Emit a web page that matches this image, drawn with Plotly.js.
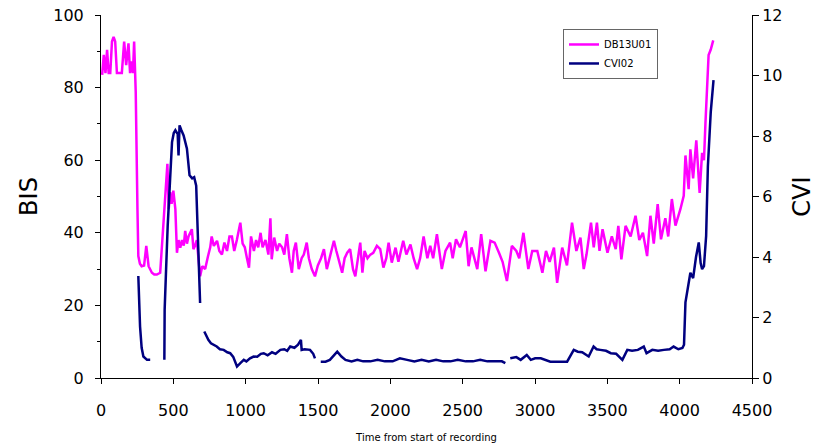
<!DOCTYPE html>
<html>
<head>
<meta charset="utf-8">
<script src="https://cdn.plot.ly/plotly-3.0.1.min.js"></script>
<style>html,body{margin:0;padding:0;background:#fff;}#chart{width:834px;height:447px;}</style>
</head>
<body>
<div id="chart"></div>
<script>
// ---- Data ----
const bisName = "DB13U01";
const cviName = "CVI02";

const bisTime = [
  8, 19, 31, 42, 53, 64, 76, 87, 98, 110,
  121, 132, 144, 160, 174, 190, 201, 213, 221, 229,
  240, 252, 258, 269, 281, 298, 313, 329, 352, 368,
  386, 409, 420, 432, 450, 459, 468, 478, 488, 500,
  514, 525, 536, 548, 560, 572, 582, 594, 605, 616,
  628, 639, 650, 662, 673, 685, 700, 720, 740, 755,
  765, 780, 802, 818, 836, 853, 871, 888, 905, 921,
  939, 963, 979, 994, 1009, 1023, 1037, 1057, 1072, 1087,
  1103, 1117, 1137, 1157, 1171, 1180, 1197, 1217, 1232, 1252,
  1267, 1285, 1302, 1320, 1332, 1347, 1367, 1387, 1402, 1422,
  1437, 1457, 1479, 1499, 1521, 1541, 1561, 1586, 1610, 1627,
  1647, 1667, 1684, 1702, 1722, 1742, 1758, 1772, 1792, 1807,
  1822, 1842, 1862, 1882, 1907, 1930, 1952, 1972, 1988, 2010,
  2036, 2056, 2089, 2111, 2139, 2161, 2185, 2206, 2230, 2256,
  2276, 2296, 2322, 2356, 2381, 2413, 2431, 2454, 2481, 2521,
  2541, 2561, 2601, 2628, 2658, 2692, 2721, 2751, 2776, 2806,
  2840, 2871, 2891, 2920, 2954, 2981, 3016, 3051, 3076, 3101,
  3131, 3153, 3188, 3221, 3256, 3286, 3314, 3337, 3356, 3387,
  3406, 3428, 3446, 3467, 3501, 3531, 3558, 3576, 3597, 3626,
  3661, 3695, 3721, 3746, 3775, 3798, 3821, 3848, 3871, 3901,
  3921, 3946, 3971, 4005, 4028, 4040, 4062, 4074, 4093, 4115,
  4138, 4155, 4168, 4178, 4190, 4200, 4215, 4225, 4232
];
const bisValue = [
  83.5, 89, 84, 90.4, 84, 84, 92.7, 94, 92.7, 84,
  84, 84, 84, 92.7, 86.2, 92.2, 84, 87.2, 84, 92.7,
  78.9, 46.5, 33.6, 31.5, 30.8, 31, 36.4, 30.8, 29, 28.5,
  28.5, 29, 35, 43.8, 53, 59, 46.5, 51.2, 48, 51.6,
  46.5, 34.5, 38, 35.9, 38, 36.5, 40.5, 37, 39, 40,
  41, 35.5, 36.4, 38, 33, 28, 30.8, 30, 33.6, 36,
  39, 36.4, 37.8, 35, 34, 37.3, 35, 39, 39, 35,
  38, 42.8, 37, 36, 33, 30.4, 39, 35, 38, 36,
  40, 36, 38, 34, 44, 32.7, 38.7, 35, 37, 36,
  34, 39.6, 33, 29, 35, 37.3, 30, 33, 34, 37.3,
  33, 30, 28, 31, 33, 35.5, 30, 34, 37.8, 35,
  32, 29, 33, 34.5, 35.5, 30, 28, 32, 37.3, 29,
  35, 33, 34, 34.5, 36.4, 35.5, 30.4, 33, 37.3, 31.8,
  35.9, 32, 37.8, 34, 36.8, 33, 30, 33, 39, 33,
  36.4, 33, 39.6, 30, 35, 37.3, 33, 38.2, 36, 40.5,
  30.8, 36, 30, 39.6, 29.4, 37.8, 37.3, 34.5, 32, 26.7,
  36.4, 35, 33, 40, 30, 35, 35, 29, 35, 32,
  35.9, 26.2, 35.9, 31, 42.8, 35, 38.7, 30, 34, 42.8,
  36, 42.8, 35, 41, 34.5, 39, 35.5, 41.9, 32.7, 41.9,
  39, 44.7, 38, 40, 33.6, 44.7, 37, 47.9, 38.2, 44,
  39, 49.3, 42, 46.5, 50.2, 61.3, 52, 63, 55, 65.5,
  51, 62, 60, 70, 82, 89, 90.5, 92, 93
];

const cviTime = [
  258, 264, 270, 281, 293, 318, 340, 390, 438, 440,
  450, 461, 479, 491, 503, 514, 525, 530, 536, 543,
  555, 571, 594, 612, 630, 644, 658, 673, 685, 700,
  714, 728, 742, 760, 780, 800, 822, 848, 873, 893,
  914, 940, 965, 987, 1005, 1030, 1055, 1080, 1105, 1125,
  1152, 1182, 1207, 1240, 1267, 1287, 1308, 1337, 1362, 1382,
  1387, 1407, 1445, 1467, 1479, 1495, 1519, 1552, 1582, 1610,
  1633, 1662, 1690, 1732, 1772, 1812, 1862, 1912, 1962, 2016,
  2066, 2116, 2166, 2216, 2266, 2316, 2366, 2416, 2466, 2521,
  2571, 2621, 2671, 2721, 2771, 2795, 2810, 2829, 2871, 2901,
  2943, 2971, 3001, 3040, 3076, 3106, 3146, 3186, 3222, 3268,
  3296, 3326, 3359, 3371, 3405, 3426, 3451, 3491, 3524, 3561,
  3604, 3638, 3671, 3711, 3752, 3771, 3811, 3851, 3891, 3931,
  3958, 3991, 4019, 4030, 4040, 4058, 4074, 4093, 4113, 4132,
  4145, 4155, 4168, 4183, 4195, 4215, 4234
];
const cviValue = [
  3.37, 2.5, 1.7, 1.0, 0.71, 0.6, 0.6, null, 0.6, 2.26,
  3.6, 5.03, 6.7, 7.8, 8.1, 8.19, 8.1, 8.08, 7.36, 8.35,
  8.2, 8.02, 7.58, 6.7, 6.6, 6.64, 6.36, 3.92, 2.48, null,
  1.54, 1.4, 1.26, 1.15, 1.1, 1.04, 0.95, 0.93, 0.85, 0.82,
  0.7, 0.38, 0.5, 0.6, 0.55, 0.65, 0.71, 0.7, 0.8, 0.82,
  0.75, 0.85, 0.8, 0.93, 0.95, 0.9, 1.04, 1.0, 1.1, 1.26,
  0.93, 0.95, 0.93, 0.8, 0.65, null, 0.54, 0.54, 0.6, 0.76,
  0.87, 0.71, 0.6, 0.55, 0.6, 0.55, 0.55, 0.6, 0.55, 0.55,
  0.65, 0.6, 0.55, 0.6, 0.55, 0.6, 0.55, 0.55, 0.6, 0.55,
  0.55, 0.6, 0.55, 0.55, 0.55, 0.49, null, 0.65, 0.69, 0.6,
  0.76, 0.6, 0.65, 0.65, 0.6, 0.54, 0.54, 0.55, 0.54, 0.93,
  0.87, 0.85, 0.76, 0.71, 1.04, 0.95, 0.93, 0.9, 0.82, 0.8,
  0.6, 0.93, 0.9, 0.93, 1.04, 0.82, 0.93, 0.9, 0.93, 0.95,
  1.04, 0.95, 0.99, 1.1, 2.5, 3.0, 3.48, 3.3, 4.0, 4.48,
  3.8, 3.6, 3.7, 4.7, 7.0, 8.8, 9.85
];

const xTicks = [0, 500, 1000, 1500, 2000, 2500, 3000, 3500, 4000, 4500];
const bisTicks = [0, 20, 40, 60, 80, 100];
const cviTicks = [0, 2, 4, 6, 8, 10, 12];

const xTitle = "Time from start of recording";
const bisTitle = "BIS";
const cviTitle = "CVI";

// ---- Chart ----
const FONT = "'DejaVu Sans', Verdana, sans-serif";

const traces = [
  {
    x: bisTime, y: bisValue, name: bisName, type: "scatter", mode: "lines",
    line: {color: "#FF00FF", width: 2.5}, connectgaps: false, yaxis: "y"
  },
  {
    x: cviTime, y: cviValue, name: cviName, type: "scatter", mode: "lines",
    line: {color: "#000080", width: 2.5}, connectgaps: false, yaxis: "y2"
  }
];

const layout = {
  width: 834, height: 447,
  margin: {l: 101, r: 82, t: 15, b: 69, pad: 0},
  paper_bgcolor: "#ffffff", plot_bgcolor: "#ffffff",
  font: {family: FONT, color: "#000000", size: 16},
  showlegend: true,
  legend: {
    x: 0.7097, y: 0.9615, xanchor: "left", yanchor: "top",
    bgcolor: "#ffffff", bordercolor: "#666666", borderwidth: 1,
    font: {family: FONT, size: 10, color: "#000000"}
  },
  xaxis: {
    range: [0, 4500], tickvals: xTicks, ticktext: xTicks.map(String),
    ticks: "outside", ticklen: 5, tickwidth: 1, tickcolor: "#000",
    showline: true, linecolor: "#000", linewidth: 1, mirror: false,
    showgrid: false, zeroline: false,
    tickfont: {family: FONT, size: 16, color: "#000"},
    ticklabelstandoff: 13,
    title: {text: xTitle, font: {family: FONT, size: 10, color: "#000"}, standoff: 14}
  },
  yaxis: {
    range: [0, 100], tickvals: bisTicks, ticktext: bisTicks.map(String),
    ticks: "outside", ticklen: 5, tickwidth: 1, tickcolor: "#000",
    minor: {dtick: 10, ticks: "outside", ticklen: 3, tickcolor: "#000", showgrid: false},
    showline: true, linecolor: "#000", linewidth: 1,
    showgrid: false, zeroline: false,
    tickfont: {family: FONT, size: 16, color: "#000"},
    ticklabelstandoff: 8,
    title: {text: bisTitle, font: {family: FONT, size: 24, color: "#000"}, standoff: 8}
  },
  yaxis2: {
    range: [0, 12], tickvals: cviTicks, ticktext: cviTicks.map(String),
    overlaying: "y", side: "right", anchor: "x",
    ticks: "outside", ticklen: 6, tickwidth: 1, tickcolor: "#000",
    showline: true, linecolor: "#000", linewidth: 1,
    showgrid: false, zeroline: false,
    tickfont: {family: FONT, size: 16, color: "#000"},
    ticklabelstandoff: 0,
    title: {text: cviTitle, font: {family: FONT, size: 24, color: "#000"}, standoff: 11}
  }
};

Plotly.newPlot("chart", traces, layout, {staticPlot: true, displayModeBar: false});
</script>
</body>
</html>
